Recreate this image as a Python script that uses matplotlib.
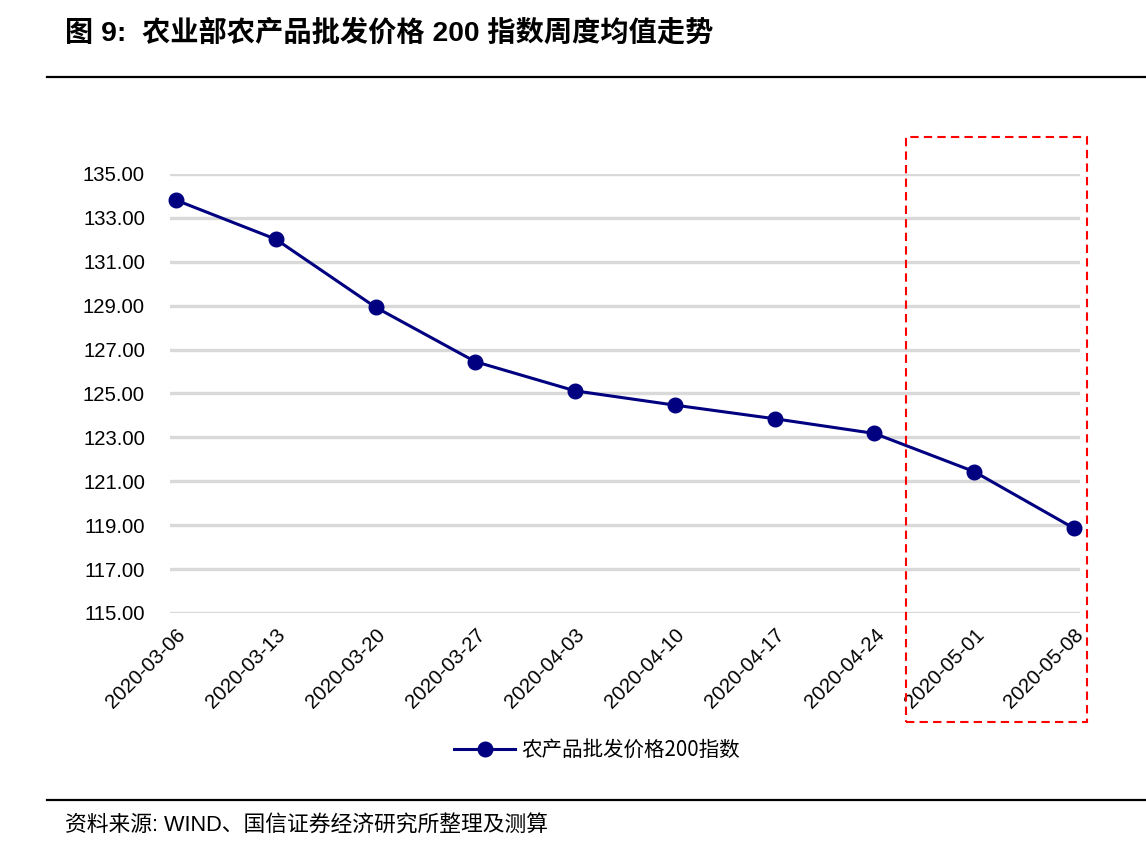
"""
农业部农产品批发价格200指数周度均值走势 (图 9)
"""
import matplotlib
matplotlib.use("agg")  # noqa: E402
import matplotlib.pyplot as plt
from matplotlib.patches import Rectangle
from matplotlib.lines import Line2D

plt.rcParams['font.family'] = ['Liberation Sans', 'Noto Sans CJK SC', 'DejaVu Sans']

# Weekly dates and index values
dates = ['2020-03-06', '2020-03-13', '2020-03-20', '2020-03-27', '2020-04-03',
         '2020-04-10', '2020-04-17', '2020-04-24', '2020-05-01', '2020-05-08']
index_200 = [133.81, 132.03, 128.93, 126.45, 125.12,
             124.47, 123.85, 123.18, 121.44, 118.86]
y_ticks = [115, 117, 119, 121, 123, 125, 127, 129, 131, 133, 135]

TITLE = "图 9:  农业部农产品批发价格 200 指数周度均值走势"
SERIES = "农产品批发价格200指数"
SOURCE = "资料来源: WIND、国信证券经济研究所整理及测算"

NAVY = '#000080'
W, H = 1146, 846

fig = plt.figure(figsize=(W / 100, H / 100), dpi=100)
ax = fig.add_axes([170 / W, 1 - 613 / H, (1080 - 170) / W, (613 - 174) / H])

x = list(range(len(dates)))
ax.plot(x, index_200, color=NAVY, linewidth=2.2, marker='o',
        markersize=10.5, zorder=3, clip_on=False)

ax.set_xlim(-0.06, len(dates) - 1 + 0.06)
ax.set_ylim(115, 135)
ax.set_yticks(y_ticks)
ax.set_yticklabels([f"{v:.2f}" for v in y_ticks], fontsize=14.6)
ax.set_xticks(x)
ax.set_xticklabels(dates, fontsize=14.6, rotation=45, ha='right',
                   rotation_mode='anchor')
ax.tick_params(axis='y', length=0, pad=18)
ax.tick_params(axis='x', length=0, pad=9)
ax.grid(axis='y', color='#D9D9D9', linewidth=2.4)
ax.set_axisbelow(True)
for s in ax.spines.values():
    s.set_visible(False)

# Legend below the axis
handle = Line2D([], [], color=NAVY, linewidth=2.2, marker='o', markersize=10.5)
fig.legend([handle], [SERIES], loc='center', bbox_to_anchor=(597 / W, 1 - 750 / H),
           frameon=False, handlelength=3.0, handletextpad=0.3,
           prop={'family': ['Noto Sans CJK SC'], 'size': 14.8})

# Red dashed highlight box over the last two weeks
fig.add_artist(Rectangle((906 / W, 1 - 722 / H), (1087 - 906) / W, (722 - 137) / H,
                         transform=fig.transFigure, fill=False, edgecolor='#FF0000',
                         linewidth=1.5, linestyle=(0, (4, 2.5))))

# Title, rules and source note
fig.text(65 / W, 1 - 33 / H, TITLE, fontsize=20.3, fontweight='bold',
         family=['Liberation Sans', 'Noto Sans CJK SC'], va='center', ha='left')
fig.add_artist(Line2D([47 / W, 1], [1 - 77 / H] * 2, color='black', linewidth=1.6,
                      transform=fig.transFigure))
fig.add_artist(Line2D([47 / W, 1], [1 - 800 / H] * 2, color='black', linewidth=1.6,
                      transform=fig.transFigure))
fig.text(65 / W, 1 - 826 / H, SOURCE, fontsize=15.7,
         family=['Liberation Sans', 'Noto Sans CJK SC'], va='center', ha='left')

fig.savefig('out.png', dpi=100)
